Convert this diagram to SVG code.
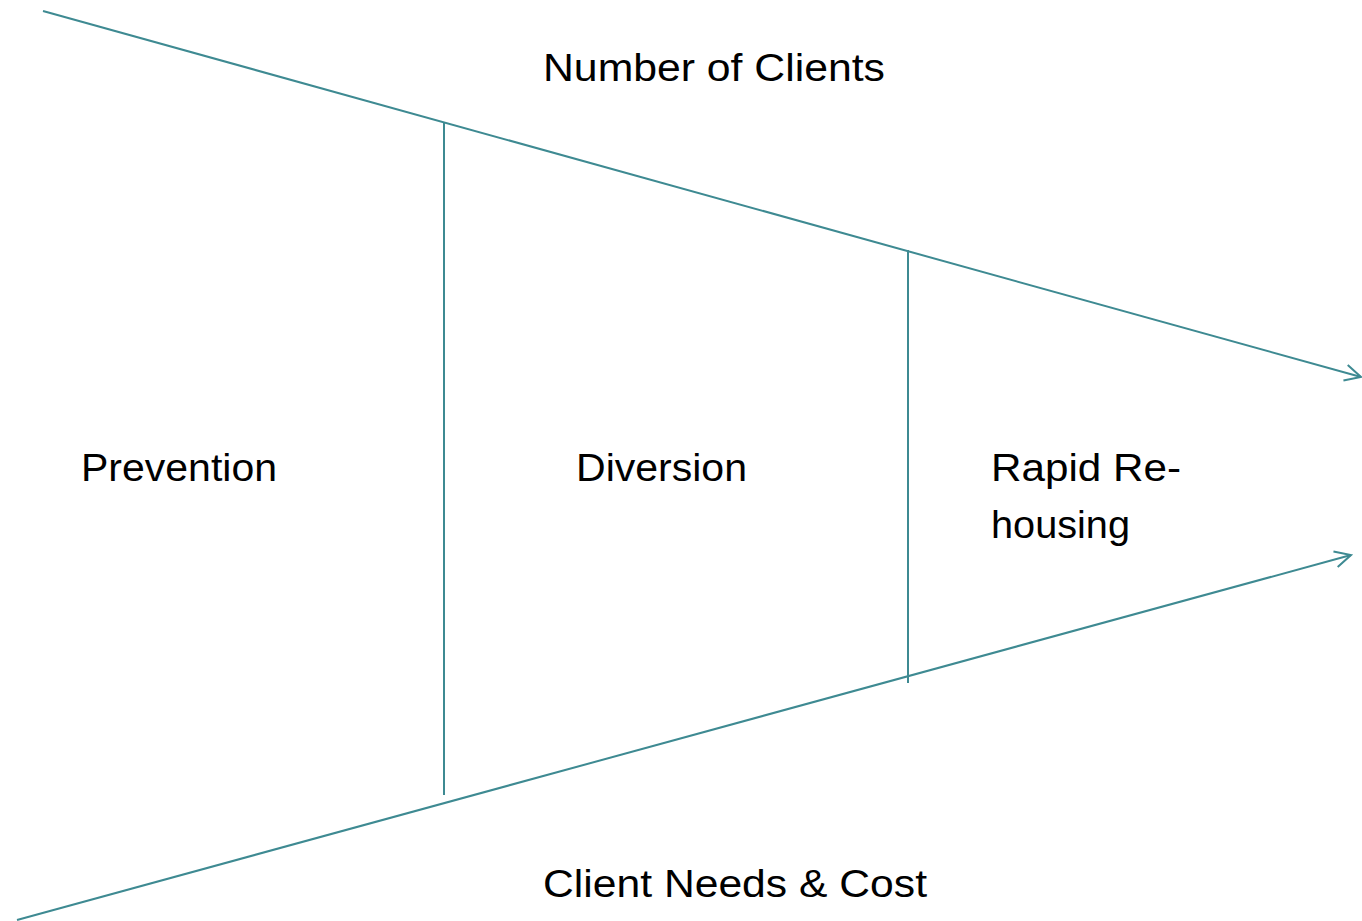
<svg xmlns="http://www.w3.org/2000/svg" width="1362" height="921" viewBox="0 0 1362 921">
<style>
.ln{stroke:#3E8A92;stroke-width:2;fill:none;stroke-linecap:butt}
.t{font-family:"Liberation Sans","DejaVu Sans",sans-serif;font-size:38px;fill:#000}
</style>
<defs>
<marker id="arr" viewBox="0 0 20 20" refX="18" refY="10" markerWidth="20" markerHeight="20" markerUnits="userSpaceOnUse" orient="auto">
<path d="M2,2 L18,10 L2,18" fill="none" stroke="#3E8A92" stroke-width="2"/>
</marker>
</defs>
<rect width="1362" height="921" fill="#fff"/>
<g id="connectors">
<line class="ln" x1="43" y1="11" x2="1361" y2="377" marker-end="url(#arr)"/>
<line class="ln" x1="17" y1="920" x2="1351" y2="555" marker-end="url(#arr)"/>
<line class="ln" x1="444" y1="122" x2="444" y2="795"/>
<line class="ln" x1="908" y1="250" x2="908" y2="683"/>
</g>
<g id="label-top"><text class="t" x="543" y="81" textLength="342" lengthAdjust="spacingAndGlyphs">Number of Clients</text></g>
<g id="node-prevention"><text class="t" x="81" y="481" textLength="196" lengthAdjust="spacingAndGlyphs">Prevention</text></g>
<g id="node-diversion"><text class="t" x="576" y="481" textLength="171" lengthAdjust="spacingAndGlyphs">Diversion</text></g>
<g id="node-rapid"><text class="t" x="991" y="481" textLength="190" lengthAdjust="spacingAndGlyphs">Rapid Re-</text><text class="t" x="991" y="538" textLength="139" lengthAdjust="spacingAndGlyphs">housing</text></g>
<g id="label-bottom"><text class="t" x="543" y="897" textLength="384" lengthAdjust="spacingAndGlyphs">Client Needs &amp; Cost</text></g>
</svg>
